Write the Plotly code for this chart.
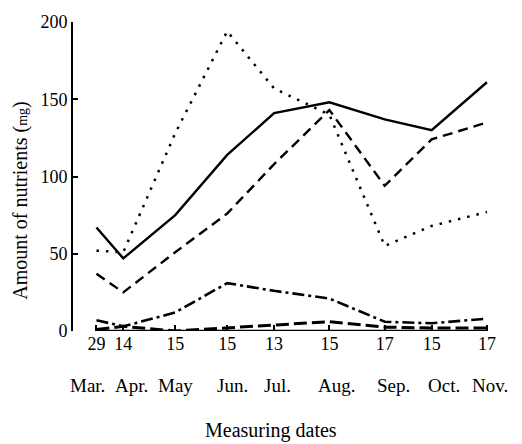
import plotly.graph_objects as go

dates = ["2000-03-29", "2000-04-14", "2000-05-15", "2000-06-15", "2000-07-13",
         "2000-08-15", "2000-09-17", "2000-10-15", "2000-11-17"]
day_labels = ["29", "14", "15", "15", "13", "15", "17", "15", "17"]
month_labels = ["Mar.", "Apr.", "May", "Jun.", "Jul.", "Aug.", "Sep.", "Oct.", "Nov."]

solid_vals = [67, 47, 75, 114, 141, 148, 137, 130, 161]
dashed_vals = [37, 25, 51, 76, 108, 143, 94, 124, 135]
dotted_vals = [52, 51, 128, 194, 157, 140, 55, 68, 77]
dashdot_vals = [7, 3, 12, 31, 26, 21, 6, 5, 8]
longdash_vals = [1, 3, 0, 2, 4, 6, 2.5, 2, 2]
base_vals = [0, 0, 0, 0, 0, 0, 0, 0, 0]

y_ticks = [0, 50, 100, 150, 200]

FONT = "'Liberation Serif', 'Times New Roman', 'DejaVu Serif', serif"

fig = go.Figure()
styles = [
    (solid_vals, "solid", 2.4),
    (dashed_vals, "10px,6px", 2.4),
    (dotted_vals, "2.5px,7px", 2.5),
    (dashdot_vals, "12px,4px,3px,4px", 2.6),
    (longdash_vals, "13px,5px", 3),
    (base_vals, "solid", 2.5),
]
for vals, dash, w in styles:
    fig.add_trace(go.Scatter(
        x=dates, y=vals, mode="lines",
        line=dict(color="black", width=w, dash=dash),
        cliponaxis=False, showlegend=False, hoverinfo="skip"))

month_shift = [-9, 8, 0, 5, 3, 7, 9, 12, 3]
for d, m, s in zip(dates, month_labels, month_shift):
    fig.add_annotation(x=d, y=0, xref="x", yref="paper", text=m,
                       showarrow=False, yanchor="middle", yshift=-54, xshift=s,
                       font=dict(family=FONT, size=19, color="black"))

PW = 522 - 73 - 25
PH = 313
fig.add_annotation(x=(271 - 73) / PW, y=-(432 - 331) / PH, xref="paper", yref="paper",
                   text="Measuring dates", showarrow=False,
                   xanchor="center", yanchor="middle",
                   font=dict(family=FONT, size=20, color="black"))

fig.add_annotation(x=-(73 - 21) / PW, y=(331 - 199) / PH,
                   xref="paper", yref="paper",
                   text="Amount of nutrients (<span style='font-size:14px'>mg</span>)",
                   textangle=-90, showarrow=False, xanchor="center", yanchor="middle",
                   font=dict(family=FONT, size=20, color="black"))

fig.update_layout(
    width=522, height=444,
    margin=dict(l=73, r=25, t=18, b=113),
    plot_bgcolor="white", paper_bgcolor="white",
    font=dict(family=FONT, size=17, color="black"),
    xaxis=dict(
        type="date", range=["2000-03-15", "2000-11-23"],
        tickmode="array", tickvals=dates, ticktext=day_labels,
        ticks="inside", ticklen=6, tickwidth=1.5, tickcolor="black",
        showline=False, showgrid=False, zeroline=False,
        tickfont=dict(family=FONT, size=18),
    ),
    yaxis=dict(
        range=[0, 200], tickmode="array", tickvals=y_ticks,
        ticks="inside", ticklen=5, tickwidth=2, tickcolor="black",
        showline=True, linewidth=2, linecolor="black",
        showgrid=False, zeroline=False,
        tickfont=dict(family=FONT, size=18),
    ),
)

fig.write_html("out.html")
